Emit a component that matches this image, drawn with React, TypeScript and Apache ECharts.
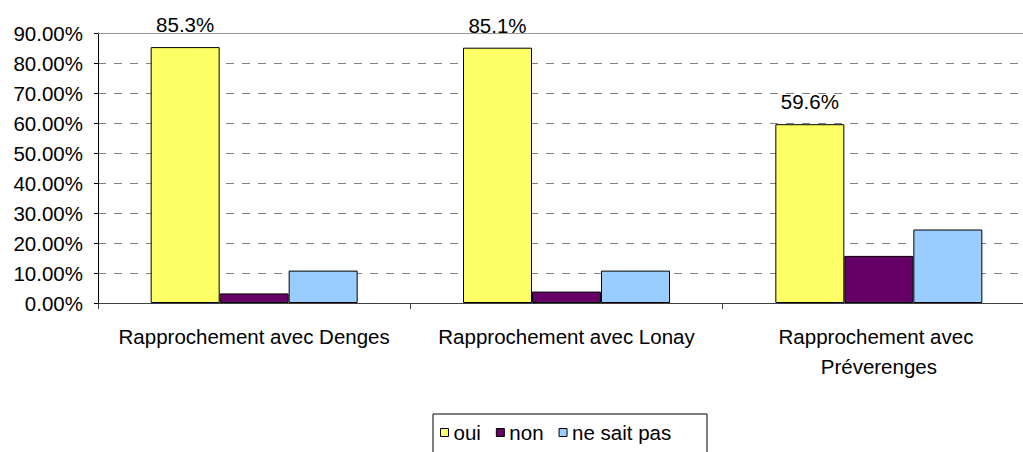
import React, { useEffect, useRef } from "react";
import * as echarts from "echarts";

const categories = [
  "Rapprochement avec Denges",
  "Rapprochement avec Lonay",
  "Rapprochement avec Préverenges",
];
const seriesNames = ["oui", "non", "ne sait pas"];
const ouiValues = [85.3, 85.1, 59.6];
const nonValues = [3.2, 3.8, 15.7];
const nspValues = [10.8, 10.8, 24.5];
const yTicks = { min: 0, max: 90, interval: 10 };

const FONT = "'Liberation Sans', Arial, sans-serif";
const FS = 20.5;

export default function App() {
  const ref = useRef<HTMLDivElement>(null);
  useEffect(() => {
    if (!ref.current) return;
    const chart = echarts.init(ref.current, undefined, { renderer: "svg" });
    const barBase = {
      type: "bar" as const,
      barWidth: 69,
      barGap: "0%",
    };
    chart.setOption({
      animation: false,
      backgroundColor: "#fff",
      textStyle: { fontFamily: FONT, color: "#000" },
      grid: { left: 98, right: 15, top: 33, bottom: 149, containLabel: false },
      xAxis: [
        {
          type: "category",
          data: categories,
          axisLine: { lineStyle: { color: "#404040", width: 1 } },
          axisTick: { show: true, length: 6, lineStyle: { color: "#404040" } },
          axisLabel: {
            fontSize: FS,
            lineHeight: 30,
            margin: 18,
            color: "#000",
            fontFamily: FONT,
            width: 295,
            overflow: "break",
            interval: 0,
          },
        },
        {
          type: "category",
          data: categories,
          position: "top",
          axisLine: { show: true, lineStyle: { color: "#9a9a9a", width: 1 } },
          axisTick: { show: false },
          axisLabel: { show: false },
        },
      ],
      yAxis: {
        type: "value",
        min: yTicks.min,
        max: yTicks.max,
        interval: yTicks.interval,
        axisLine: { show: true, lineStyle: { color: "#000", width: 1 } },
        axisTick: { show: true, length: 4, lineStyle: { color: "#000" } },
        axisLabel: {
          fontSize: FS,
          margin: 15,
          color: "#000",
          fontFamily: FONT,
          formatter: (v: number) => v.toFixed(2) + "%",
        },
        splitLine: {
          show: true,
          lineStyle: { color: "#808080", type: [8, 8], width: 1 },
        },
      },
      legend: {
        data: seriesNames,
        left: 440,
        top: 422,
        padding: 0,
        itemWidth: 8,
        itemHeight: 8,
        itemGap: 15,
        icon: "rect",
        textStyle: { fontSize: FS, color: "#000", fontFamily: FONT },
        itemStyle: { borderColor: "#000", borderWidth: 1 },
      },
      graphic: [
        {
          type: "rect",
          shape: { x: 433, y: 414, width: 274, height: 40 },
          style: { fill: "none", stroke: "#000", lineWidth: 1 },
          silent: true,
        },
      ],
      series: [
        {
          ...barBase,
          name: seriesNames[0],
          data: ouiValues,
          itemStyle: { color: "#FFFF66", borderColor: "#000", borderWidth: 1 },
          label: {
            show: true,
            position: "top",
            distance: 12,
            fontSize: FS,
            color: "#000",
            fontFamily: FONT,
            formatter: (p: any) => Number(p.value).toFixed(1) + "%",
          },
        },
        {
          ...barBase,
          name: seriesNames[1],
          data: nonValues,
          itemStyle: { color: "#660066", borderColor: "#000", borderWidth: 1 },
        },
        {
          ...barBase,
          name: seriesNames[2],
          data: nspValues,
          itemStyle: { color: "#99CCFF", borderColor: "#000", borderWidth: 1 },
        },
      ],
    });
    return () => chart.dispose();
  }, []);
  return (
    <div
      style={{
        position: "absolute",
        left: 0,
        top: 0,
        width: 1023,
        height: 452,
        overflow: "hidden",
        background: "#fff",
      }}
    >
      <div ref={ref} style={{ width: 1050, height: 452 }} />
    </div>
  );
}
